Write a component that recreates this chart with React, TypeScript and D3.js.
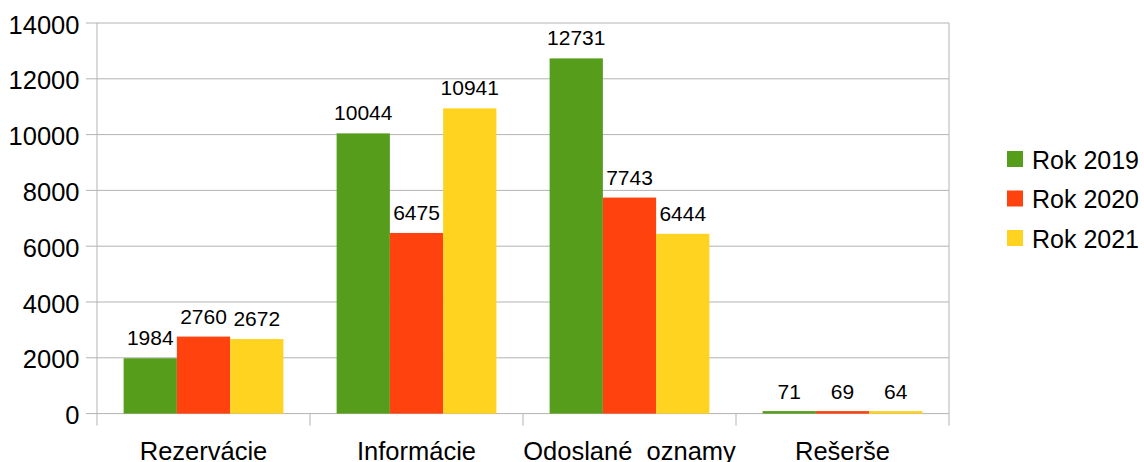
import React from "react";
import * as d3 from "d3";

const categories = ["Rezervácie", "Informácie", "Odoslané  oznamy", "Rešerše"];
const seriesNames = ["Rok 2019", "Rok 2020", "Rok 2021"];
const values2019 = [1984, 10044, 12731, 71];
const values2020 = [2760, 6475, 7743, 69];
const values2021 = [2672, 10941, 6444, 64];
const yTicks = [0, 2000, 4000, 6000, 8000, 10000, 12000, 14000];
const colors = ["#579d1c", "#ff420e", "#ffd320"];

const W = 1144;
const H = 462;
const left = 97;
const right = 949;
const top = 23;
const bottom = 413.6;
const font = "'Liberation Sans', Arial, sans-serif";

export default function App() {
  const series = [values2019, values2020, values2021];
  const x = d3.scaleBand<string>().domain(categories).range([left, right]).paddingInner(0).paddingOuter(0);
  const y = d3.scaleLinear().domain([0, 14000]).range([bottom, top]);
  const bw = x.bandwidth();
  const groupPad = bw * 0.125;
  const xs = d3
    .scaleBand<number>()
    .domain(series.map((_, i) => i))
    .range([groupPad, bw - groupPad])
    .padding(0);

  return (
    <svg
      width={W}
      height={H}
      style={{ position: "absolute", left: 0, top: 0, background: "#fff" }}
      fontFamily={font}
    >
      {yTicks.map((t) => (
        <g key={t}>
          <line x1={left - 11} x2={right} y1={y(t)} y2={y(t)} stroke="#b3b3b3" strokeWidth={1} />
          <text x={79.5} y={y(t) + 10.5} fontSize={25.5} textAnchor="end" fill="#000">
            {t}
          </text>
        </g>
      ))}
      <line x1={left} x2={left} y1={top} y2={bottom + 12} stroke="#b3b3b3" />
      <line x1={right} x2={right} y1={top} y2={bottom + 12} stroke="#b3b3b3" />
      {categories.map((c, i) =>
        i > 0 ? (
          <line key={"t" + c} x1={x(c)!} x2={x(c)!} y1={bottom} y2={bottom + 12} stroke="#b3b3b3" />
        ) : null
      )}
      {categories.map((c, ci) => (
        <g key={c}>
          {series.map((s, si) => {
            const bx = x(c)! + xs(si)!;
            const by = y(s[ci]);
            const h = Math.max(bottom - by, 2.5);
            return (
              <g key={si}>
                <rect x={bx} y={bottom - h} width={xs.bandwidth()} height={h} fill={colors[si]} />
                <text
                  x={bx + xs.bandwidth() / 2}
                  y={Math.min(by, bottom - 2) - 13}
                  fontSize={21}
                  textAnchor="middle"
                  fill="#000"
                >
                  {s[ci]}
                </text>
              </g>
            );
          })}
          <text
            x={x(c)! + bw / 2}
            y={460}
            fontSize={25.5}
            textAnchor="middle"
            fill="#000"
            style={{ whiteSpace: "pre" }}
          >
            {c}
          </text>
        </g>
      ))}
      {seriesNames.map((n, i) => (
        <g key={n} transform={`translate(1007, ${151 + i * 39.5})`}>
          <rect x={0} y={0} width={16} height={16} fill={colors[i]} />
          <text x={25} y={17.5} fontSize={25} fill="#000">
            {n}
          </text>
        </g>
      ))}
    </svg>
  );
}
